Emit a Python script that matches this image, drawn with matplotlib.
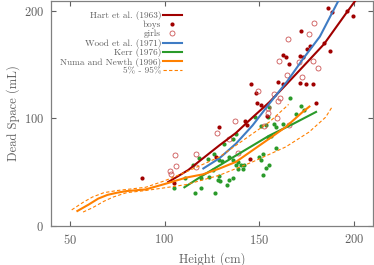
import numpy as np
import matplotlib
matplotlib.use('Agg')
import matplotlib.pyplot as plt

plt.rcParams['font.family'] = 'serif'
plt.rcParams['font.serif'] = ['cmr10', 'DejaVu Serif']
plt.rcParams['axes.formatter.use_mathtext'] = True
plt.rcParams['mathtext.fontset'] = 'cm'

# fitted curves
hart_x = [102, 104, 112.5, 120, 129, 137.7, 146.5, 155.3, 164, 172.8, 184.2, 195.6, 201]
hart_y = [41, 43, 52, 62.5, 75, 86.5, 101, 115, 131, 147.5, 169, 197, 210]
wood_x = [120.5, 129, 137.7, 146.5, 155.3, 165, 173, 182, 192]
wood_y = [53.5, 63, 76.5, 93.5, 113.6, 135, 155, 176, 210]
kerr_x = [110.5, 120.2, 137.7, 155.3, 168, 180]
kerr_y = [36, 47, 65.5, 84, 95, 106]
numa_x = [54, 60, 65, 70, 75, 80, 90, 100, 111.4, 120.2, 129, 137.7, 146.5, 155.3, 164, 172.8, 176.5]
numa_y = [14, 20, 25.5, 29, 31, 32.5, 34, 39, 45, 48, 53.4, 59.6, 70.4, 81.2, 92, 105.8, 111]
p95_x = [51, 57, 62, 68, 75, 80, 90, 100, 111.4, 129, 146.5, 155.3, 164, 165.5]
p95_y = [15, 22, 27, 31, 33, 34, 36, 42, 50.3, 64.2, 85.8, 96.6, 110.5, 113]
p5_x = [57, 62, 68, 73, 80, 90, 100, 111.4, 129, 146.5, 164, 176.3, 185, 188.6]
p5_y = [13, 17, 23, 27, 31, 33, 35.5, 38.5, 47.2, 59.6, 73.5, 87.3, 101, 111]

# Hart et al. (1963) boys
boys_x = [88, 105, 127.2, 128.6, 142.3, 143.8, 145.3, 145.6, 148.3, 149, 151.2, 154,
          160, 162.6, 162.8, 164, 165.6, 171.4, 173, 171.4, 174.6, 178.6, 172, 175.4,
          176.8, 179.8, 184.4, 187.2, 186.5, 188.6, 196.5, 199.5]
boys_y = [44.7, 40, 64, 92, 97.5, 93.5, 62.6, 132, 123.5, 114, 112.5, 102,
          133.5, 132, 159, 156.8, 150.6, 158, 156.8, 132.7, 131.5, 131.5, 181.5, 164.5,
          167.6, 114.2, 169.7, 163, 203, 199, 200, 195]
# Hart et al. (1963) girls
girls_x = [103, 103.5, 105.3, 106.2, 116.7, 116.7, 127.7, 133.8, 137.4, 138.6, 149.5,
           152.6, 154.4, 154.7, 157.7, 159.3, 160, 160.9, 160.5, 164.4, 165.3, 165.8,
           171, 172.6, 176.3, 178.4, 179, 181.2]
girls_y = [51, 48.8, 65.7, 55.8, 66.7, 55, 86.7, 80.5, 97.5, 67.9, 125,
           92.6, 105, 110, 122.8, 100.6, 116, 119, 153, 140.7, 174, 93.5,
           152, 138, 178, 153, 189, 146.6]
# Kerr (1976) points
kerr_px = [104.9, 110.8, 115.3, 116.1, 118.4, 119.3, 119.3, 122.8, 123.7, 125.4, 126.3,
           126.8, 128, 129, 129.3, 129, 130.4, 131.2, 133, 134.2, 134.2, 136, 136, 136,
           137.7, 137.7, 138.6, 139, 140.4, 141.2, 142.1, 148, 150, 150.9, 150.9, 152.1,
           152.1, 153.8, 153.8, 154.4, 154.4, 154.9, 155.3, 156.2, 157.9, 158.8, 159.1,
           162.8, 166, 169.6, 172.3, 173.7]
kerr_py = [35, 44.7, 56.5, 30.9, 63.6, 45, 34.9, 62.6, 45.7, 51.9, 67.3,
           30.9, 42.6, 46.3, 42, 61, 60, 76.5, 38, 43.2, 64, 45, 61, 81.2,
           85.8, 56.5, 53.4, 59.5, 56.5, 53.4, 56.5, 101, 64, 61.7, 92.9, 67.3,
           47.2, 54, 93.5, 82.7, 101, 56.5, 110.5, 83.3, 95, 72.5, 92,
           95, 118.5, 103.7, 111.8, 108]

red = '#a00000'
girl = '#cc5555'
blue = '#3f7cc4'
green = '#2a9a2a'
orange = '#ff8000'
grey = '#606060'

fig = plt.figure(figsize=(3.74, 2.65), dpi=100)
ax = fig.add_axes([0.136, 0.147, 0.861, 0.851])

ax.plot(kerr_px, kerr_py, 'o', color=green, ms=3.0, mew=0, zorder=2)
ax.plot(boys_x, boys_y, 'o', color=red, ms=3.0, mew=0, zorder=2)
ax.plot(girls_x, girls_y, 'o', mfc='none', mec=girl, ms=3.6, mew=0.6, zorder=2)

ax.plot(hart_x, hart_y, '-', color=red, lw=1.5, label='Hart et al. (1963)', zorder=3)
ax.plot([], [], 'o', color=red, ms=3.0, mew=0, label='boys')
ax.plot([], [], 'o', mfc='none', mec=girl, ms=3.6, mew=0.6, label='girls')
ax.plot(wood_x, wood_y, '-', color=blue, lw=1.5, label='Wood et al. (1971)', zorder=3)
ax.plot(kerr_x, kerr_y, '-', color=green, lw=1.5, label='Kerr (1976)', zorder=3)
ax.plot(numa_x, numa_y, '-', color=orange, lw=1.5, label='Numa and Newth (1996)', zorder=3)
ax.plot(p95_x, p95_y, '--', color=orange, lw=0.8, dashes=(3, 2), label='5% - 95%', zorder=3)
ax.plot(p5_x, p5_y, '--', color=orange, lw=0.8, dashes=(3, 2), zorder=3)

ax.set_xlim(40, 210)
ax.set_ylim(0, 209.5)
ax.set_xticks([50, 100, 150, 200])
ax.set_yticks([0, 100, 200])
ax.tick_params(direction='in', top=True, right=True, length=3.5, width=0.8,
               color=grey, labelcolor=grey, labelsize=9, pad=5)
for s in ax.spines.values():
    s.set_color('#808080')
    s.set_linewidth(0.9)

ax.set_xlabel('Height (cm)', fontsize=9, color=grey, labelpad=4)
ax.set_ylabel('Dead Space (mL)', fontsize=9, color=grey, labelpad=3)

leg = ax.legend(loc='upper right', bbox_to_anchor=(0.406, 0.952), markerfirst=False,
                frameon=False, fontsize=6.7, numpoints=1, handlelength=2.0,
                handletextpad=0.2, labelspacing=0.05, borderpad=0, borderaxespad=0)
for t in leg.get_texts():
    t.set_color(grey)

fig.savefig('out.png', dpi=100)
